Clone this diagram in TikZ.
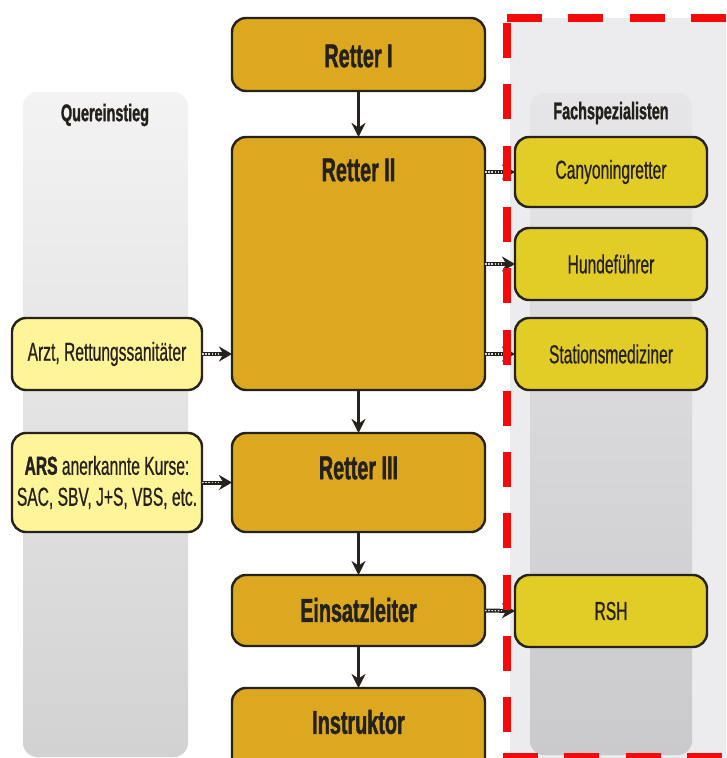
\documentclass[tikz,border=0pt]{standalone}
\usepackage{fontspec}
\setmainfont[FakeStretch=0.6, BoldFeatures={FakeBold=1.2}]{Liberation Sans}
\newfontfamily\labfont[FakeStretch=0.6, FakeBold=0.6, BoldFeatures={FakeBold=1.2}]{Liberation Sans}
\usetikzlibrary{arrows.meta}
\definecolor{gold}{RGB}{220,168,32}
\definecolor{specy}{RGB}{226,204,38}
\definecolor{lighty}{RGB}{255,245,152}
\definecolor{bord}{RGB}{38,34,28}
\definecolor{txt}{RGB}{36,32,26}
\definecolor{redd}{RGB}{245,10,10}
\begin{document}
\begin{tikzpicture}[x=1pt,y=-1pt,
  every node/.style={inner sep=0pt, outer sep=0pt},
  box/.style={draw=bord, line width=2.4pt, rounded corners=14pt},
  rbox/.style={box, fill=gold, minimum width=253pt},
  sbox/.style={box, fill=specy, minimum width=192pt, text=txt, font=\labfont\fontsize{26}{30}\selectfont},
  lbox/.style={box, fill=lighty, minimum width=190pt, text=txt, font=\labfont\fontsize{26}{31}\selectfont, align=center},
  rtext/.style={text=txt, font=\fontsize{33}{36}\selectfont\bfseries},
  ttext/.style={text=txt, font=\fontsize{24}{28}\selectfont\bfseries},
  varrow/.style={draw=bord, line width=2.4pt, -{Stealth[length=14pt,width=14pt]}},
  dotarrow/.style={draw=bord, line width=4pt, -{Stealth[length=13pt,width=15pt]},
    postaction={draw=white!70!gray, line width=1.2pt, dash pattern=on 1.6pt off 1.6pt, shorten >=13pt, -}},
  reddash/.style={draw=redd, line width=8pt, dash pattern=on 35pt off 26.3pt}
]
\useasboundingbox (0,0) rectangle (726,758);
\clip (0,0) rectangle (726,758);
% right background
\fill[color={rgb,255:red,236;green,236;blue,238}] (510,18) rectangle (726,758);
% panels
\shade[rounded corners=14pt, top color={rgb,255:red,243;green,243;blue,243}, bottom color={rgb,255:red,210;green,210;blue,210}] (23,92) rectangle (188,757);
\shade[rounded corners=14pt, top color={rgb,255:red,230;green,230;blue,232}, bottom color={rgb,255:red,202;green,202;blue,205}] (530,93) rectangle (692,755);
\node[ttext] (qtitle) at (105,115) {Quereinstieg};
\node[ttext] (ftitle) at (611,113) {Fachspezialisten};
% main column
\node[rbox, minimum height=73pt] (r1) at (358.5,54.5) {};
\node[rtext] (r1t) at (358.5,56) {Retter I};
\node[rbox, minimum height=253pt] (r2) at (358.5,263.5) {};
\node[rtext] (r2t) at (358.5,170) {Retter II};
\node[rbox, minimum height=99pt] (r3) at (358.5,482.5) {};
\node[rtext] (r3t) at (358.5,468) {Retter III};
\node[rbox, minimum height=71pt] (el) at (358.5,610.5) {};
\node[rtext] (elt) at (358.5,610) {Einsatzleiter};
\node[rbox, minimum height=100pt] (in) at (358.5,738) {};
\node[rtext] (int) at (358.5,722) {Instruktor};
% left boxes
\node[lbox, minimum height=72pt] (arzt) at (107,354) {Arzt, Rettungssanitäter};
\node[lbox, minimum height=99pt] (ars) at (107,482.5) {\textbf{ARS} anerkannte Kurse:\\SAC, SBV, J+S, VBS, etc.};
% specialist boxes
\node[sbox, minimum height=70pt] (can) at (611,172) {Canyoningretter};
\node[sbox, minimum height=72pt] (hun) at (611,264) {Hundeführer};
\node[sbox, minimum height=72pt] (sta) at (611,354) {Stationsmediziner};
\node[sbox, minimum height=72pt] (rsh) at (611,611) {RSH};
% vertical arrows
\draw[varrow] (r1.south) -- (r2.north);
\draw[varrow] (r2.south) -- (r3.north);
\draw[varrow] (r3.south) -- (el.north);
\draw[varrow] (el.south) -- (in.north);
% dotted arrows
\draw[dotarrow] (arzt.east) -- (r2.west |- arzt.east);
\draw[dotarrow] (ars.east) -- (r3.west |- ars.east);
\draw[dotarrow] (r2.east |- can.west) -- (can.west);
\draw[dotarrow] (r2.east |- hun.west) -- (hun.west);
\draw[dotarrow] (r2.east |- sta.west) -- (sta.west);
\draw[dotarrow] (el.east) -- (rsh.west);
% red dashed frame
\coordinate (fa) at (507,18);
\coordinate (fb) at (740,18);
\coordinate (fc) at (507,23);
\coordinate (fd) at (507,780);
\coordinate (fe) at (503,757);
\coordinate (ff) at (740,757);
\draw[reddash] (fa) -- (fb);
\draw[reddash] (fc) -- (fd);
\draw[reddash] (fe) -- (ff);
\end{tikzpicture}
\end{document}
